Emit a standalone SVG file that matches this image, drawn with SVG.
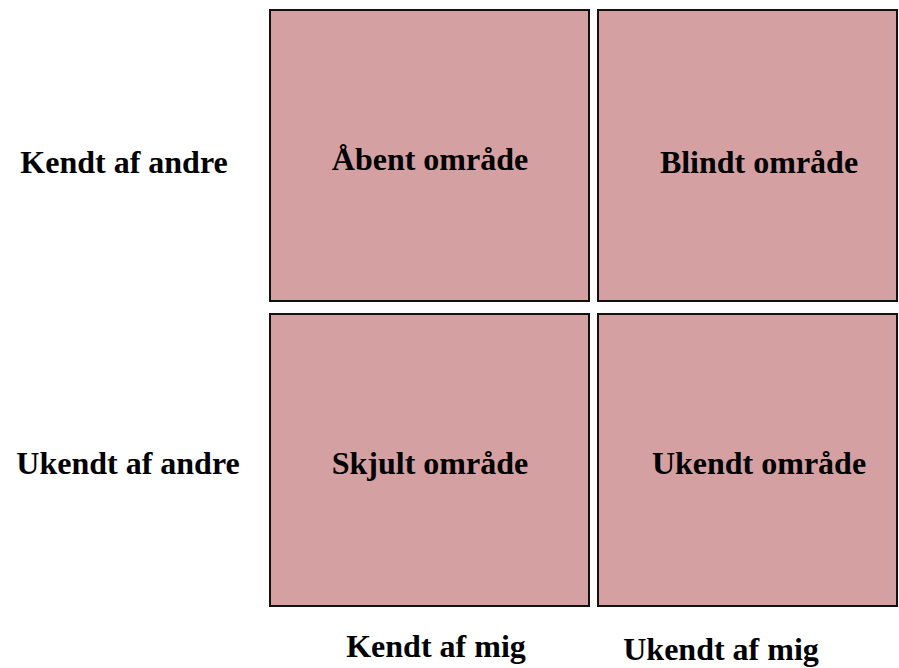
<svg xmlns="http://www.w3.org/2000/svg" width="899" height="668" viewBox="0 0 899 668">
<style>
.box{fill:#d4a0a2;stroke:#111;stroke-width:2}
.t{font-family:"Liberation Serif","Times New Roman",serif;font-weight:bold;font-size:32px;fill:#000;text-anchor:middle}
</style>
<rect width="899" height="668" fill="#fff"/>
<g id="open"><rect class="box" x="270" y="10" width="319" height="291"/><text class="t" x="430" y="170">Åbent område</text></g>
<g id="blind"><rect class="box" x="598" y="10" width="299" height="291"/><text class="t" x="759" y="173">Blindt område</text></g>
<g id="hidden"><rect class="box" x="270" y="314" width="319" height="292"/><text class="t" x="430" y="474">Skjult område</text></g>
<g id="unknown"><rect class="box" x="598" y="314" width="299" height="292"/><text class="t" x="759" y="474">Ukendt område</text></g>
<g id="row1"><text class="t" x="124" y="173">Kendt af andre</text></g>
<g id="row2"><text class="t" x="128" y="474">Ukendt af andre</text></g>
<g id="col1"><text class="t" x="436" y="657">Kendt af mig</text></g>
<g id="col2"><text class="t" x="721" y="660">Ukendt af mig</text></g>
<g id="connectors"></g>
</svg>
